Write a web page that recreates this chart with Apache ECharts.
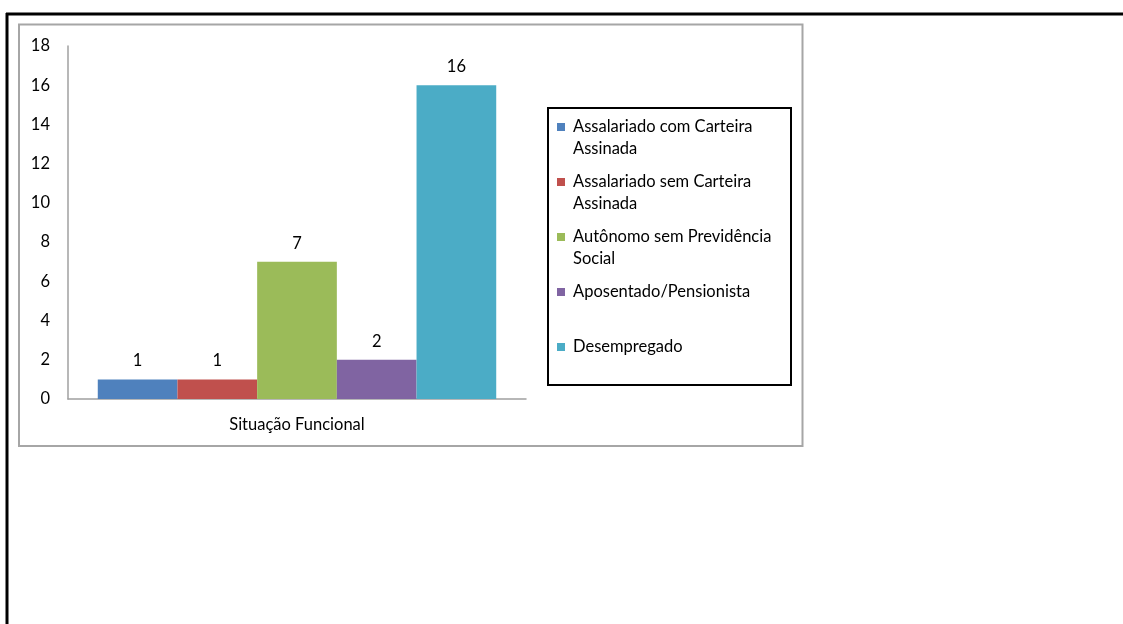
<!DOCTYPE html>
<html>
<head>
<meta charset="utf-8">
<script src="https://cdn.jsdelivr.net/npm/echarts@6/dist/echarts.min.js"></script>
<style>
html,body{margin:0;padding:0;background:#fff;}
#chart{width:1123px;height:624px;}
</style>
</head>
<body>
<div id="chart"></div>
<script>
var categories = ['Situação Funcional'];
var seriesNames = [
  'Assalariado com Carteira\nAssinada',
  'Assalariado sem Carteira\nAssinada',
  'Autônomo sem Previdência\nSocial',
  'Aposentado/Pensionista',
  'Desempregado'
];
var seriesValues = [1, 1, 7, 2, 16];
var seriesColors = ['#4F81BD', '#C0504D', '#9BBB59', '#8064A2', '#4BACC6'];
var yTicks = [0, 2, 4, 6, 8, 10, 12, 14, 16, 18];

var FONT = 'Lato, "Open Sans", sans-serif';

var chart = echarts.init(document.getElementById('chart'), null, {renderer: 'canvas'});

var series = seriesNames.map(function (name, i) {
  return {
    name: name,
    type: 'bar',
    data: [seriesValues[i]],
    barGap: '0%',
    barCategoryGap: '13%',
    itemStyle: {color: seriesColors[i]},
    label: {
      show: true,
      position: 'top',
      distance: 10,
      color: '#000',
      fontSize: 16.5,
      fontFamily: FONT
    }
  };
});

var option = {
  animation: false,
  backgroundColor: '#fff',
  grid: {left: 68, top: 46, width: 458, height: 353, containLabel: false},
  xAxis: {
    type: 'category',
    data: categories,
    axisTick: {show: false},
    axisLine: {show: true, lineStyle: {color: '#a0a0a0', width: 1.5}},
    axisLabel: {color: '#000', fontSize: 16.5, fontFamily: FONT, margin: 17}
  },
  yAxis: {
    type: 'value',
    min: yTicks[0],
    max: yTicks[yTicks.length - 1],
    interval: 2,
    splitLine: {show: false},
    axisTick: {show: false},
    axisLine: {show: true, lineStyle: {color: '#a0a0a0', width: 1.5}},
    axisLabel: {color: '#000', fontSize: 16.5, fontFamily: FONT, margin: 18}
  },
  legend: {
    orient: 'vertical',
    left: 557,
    top: 94,
    padding: 0,
    itemWidth: 8,
    itemHeight: 8,
    itemGap: -11,
    icon: 'rect',
    selectedMode: false,
    data: seriesNames,
    formatter: function (name) {
      var parts = name.split('\n');
      if (parts.length === 1) parts.push(' ');
      return ' \n' + parts.join('\n');
    },
    textStyle: {
      color: '#000',
      fontSize: 16.5,
      fontFamily: FONT,
      lineHeight: 22,
      padding: [0, 0, 0, 3]
    }
  },
  graphic: [
    {type: 'line', shape: {x1: 6, y1: 14, x2: 1123, y2: 14}, style: {stroke: '#000', lineWidth: 3}, silent: true},
    {type: 'line', shape: {x1: 7, y1: 13, x2: 7, y2: 624}, style: {stroke: '#000', lineWidth: 3}, silent: true},
    {type: 'rect', shape: {x: 19, y: 24.5, width: 783.5, height: 421.5}, style: {fill: 'none', stroke: '#a6a6a6', lineWidth: 2}, silent: true},
    {type: 'rect', shape: {x: 548, y: 108, width: 243, height: 277}, style: {fill: 'none', stroke: '#000', lineWidth: 2}, silent: true, z: 10}
  ],
  series: series
};

chart.setOption(option);
</script>
</body>
</html>
